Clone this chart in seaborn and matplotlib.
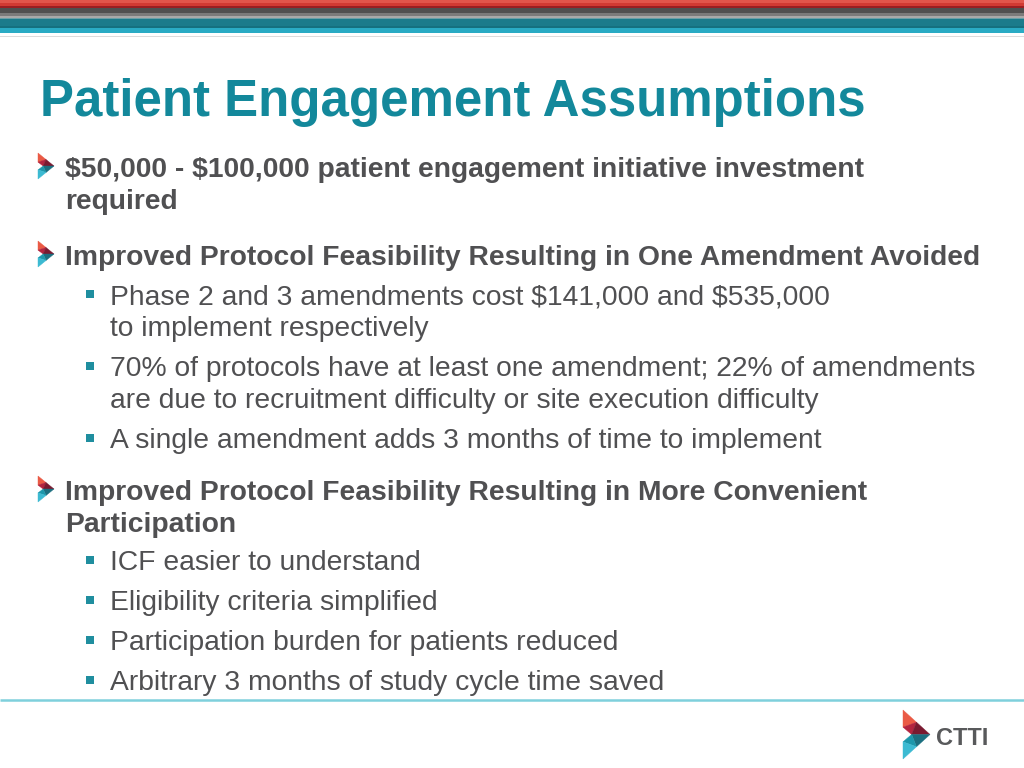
import matplotlib
matplotlib.use("Agg")
import matplotlib.pyplot as plt
from matplotlib.patches import Rectangle, Polygon
import seaborn as sns
import pandas as pd

# ---------------- content ----------------
title = "Patient Engagement Assumptions"
levels = [1, 1, 2, 2, 2, 1, 2, 2, 2, 2]
item_lines = [
    ["$50,000 - $100,000 patient engagement initiative investment", "required"],
    ["Improved Protocol Feasibility Resulting in One Amendment Avoided"],
    ["Phase 2 and 3 amendments cost $141,000 and $535,000", "to implement respectively"],
    ["70% of protocols have at least one amendment; 22% of amendments",
     "are due to recruitment difficulty or site execution difficulty"],
    ["A single amendment adds 3 months of time to implement"],
    ["Improved Protocol Feasibility Resulting in More Convenient", "Participation"],
    ["ICF easier to understand"],
    ["Eligibility criteria simplified"],
    ["Participation burden for patients reduced"],
    ["Arbitrary 3 months of study cycle time saved"],
]
logo_text = "CTTI"

# ---------------- layout (pixels) ----------------
W, H = 1024, 768
item_baselines = [177, 265, 304, 376, 448, 500, 570, 610, 650, 690]
line_gap = 32
x_lvl1_icon = 38
x_lvl1_text = 65
x_lvl2_bullet = 90
x_lvl2_text = 110

TEAL_TITLE = "#13889b"
TEXT = "#505052"
BULLET = "#1f8e9f"

sns.set_theme(style="white")
plt.rcParams["font.family"] = ["Liberation Sans", "DejaVu Sans"]
plt.rcParams["text.parse_math"] = False

fig = plt.figure(figsize=(W / 100, H / 100), dpi=100)
ax = fig.add_axes([0, 0, 1, 1])
ax.set_xlim(0, W)
ax.set_ylim(H, 0)
ax.axis("off")
fig.patch.set_facecolor("white")

# top stripes
stripes = [
    (0, 3, "#e2554b"), (3, 6, "#d23a33"), (6, 7.5, "#9a1e22"),
    (7.5, 12.5, "#505050"), (12.5, 16, "#7b7b7b"), (16, 18, "#a9a9a9"),
    (18, 19, "#6aa0a8"), (19, 26, "#1b7b8b"), (26, 27.5, "#15707f"),
    (27.5, 33, "#2aabc4"), (33, 35.5, "#ffffff"), (35.5, 37, "#dcdcdc"),
]
for y0, y1, c in stripes:
    ax.add_patch(Rectangle((0, y0), W, y1 - y0, color=c, lw=0, zorder=1))

# bottom line
ax.plot([0, W], [700, 700], color="#7fd0dc", lw=1.8, solid_capstyle="butt")


def chevron(x0, y0, w, h):
    def p(u, v):
        return (x0 + u * w, y0 + v * h)
    A, A2, N = p(0, 0), p(0, 0.35), p(0.32, 0.5)
    B2, B, R = p(0, 0.65), p(0, 1), p(1, 0.5)
    M1, M2 = p(0.5, 0.25), p(0.5, 0.75)
    parts = [
        ([A, M1, A2], "#ea5a45"),
        ([A2, M1, N], "#b3243f"),
        ([M1, R, N], "#7a1a30"),
        ([N, R, M2], "#1b6f80"),
        ([B2, N, M2], "#1c97ab"),
        ([B2, M2, B], "#3cbad2"),
    ]
    for pts, c in parts:
        ax.add_patch(Polygon(pts, closed=True, facecolor=c, edgecolor=c,
                             lw=0.3, zorder=3))


renderer = fig.canvas.get_renderer()


def fit_size(text, target_px, weight):
    t = ax.text(0, 0, text, fontsize=10, fontweight=weight)
    w = t.get_window_extent(renderer=renderer).width
    t.remove()
    return 10 * target_px / w


title_fs = fit_size(title, 826, "bold")
bold_fs = fit_size(item_lines[1][0], 919, "bold")
reg_fs = fit_size(item_lines[3][0], 868, "normal")

ax.text(40, 116, title, fontsize=title_fs, fontweight="bold",
        color=TEAL_TITLE, va="baseline", ha="left")

bullet_rows = []
for lvl, lines, yb in zip(levels, item_lines, item_baselines):
    for k, ln in enumerate(lines):
        y = yb + k * line_gap
        if lvl == 1:
            ax.text(x_lvl1_text, y, ln, fontsize=bold_fs, fontweight="bold",
                    color=TEXT, va="baseline", ha="left")
        else:
            ax.text(x_lvl2_text, y, ln, fontsize=reg_fs, color=TEXT,
                    va="baseline", ha="left")
    if lvl == 1:
        chevron(x_lvl1_icon, yb - 24, 16, 26)
    else:
        bullet_rows.append({"x": x_lvl2_bullet, "y": yb - 10})

bdf = pd.DataFrame(bullet_rows)
sns.scatterplot(data=bdf, x="x", y="y", marker="s", s=32, color=BULLET,
                edgecolor="none", ax=ax, zorder=4)
ax.set_xlim(0, W)
ax.set_ylim(H, 0)
ax.axis("off")

# logo
chevron(903, 710, 27, 49)
logo_fs = fit_size(logo_text, 52, "bold")
ax.text(936, 745, logo_text, fontsize=logo_fs, fontweight="bold",
        color="#58595b", va="baseline", ha="left")

fig.savefig("out.png", dpi=100, facecolor="white")
